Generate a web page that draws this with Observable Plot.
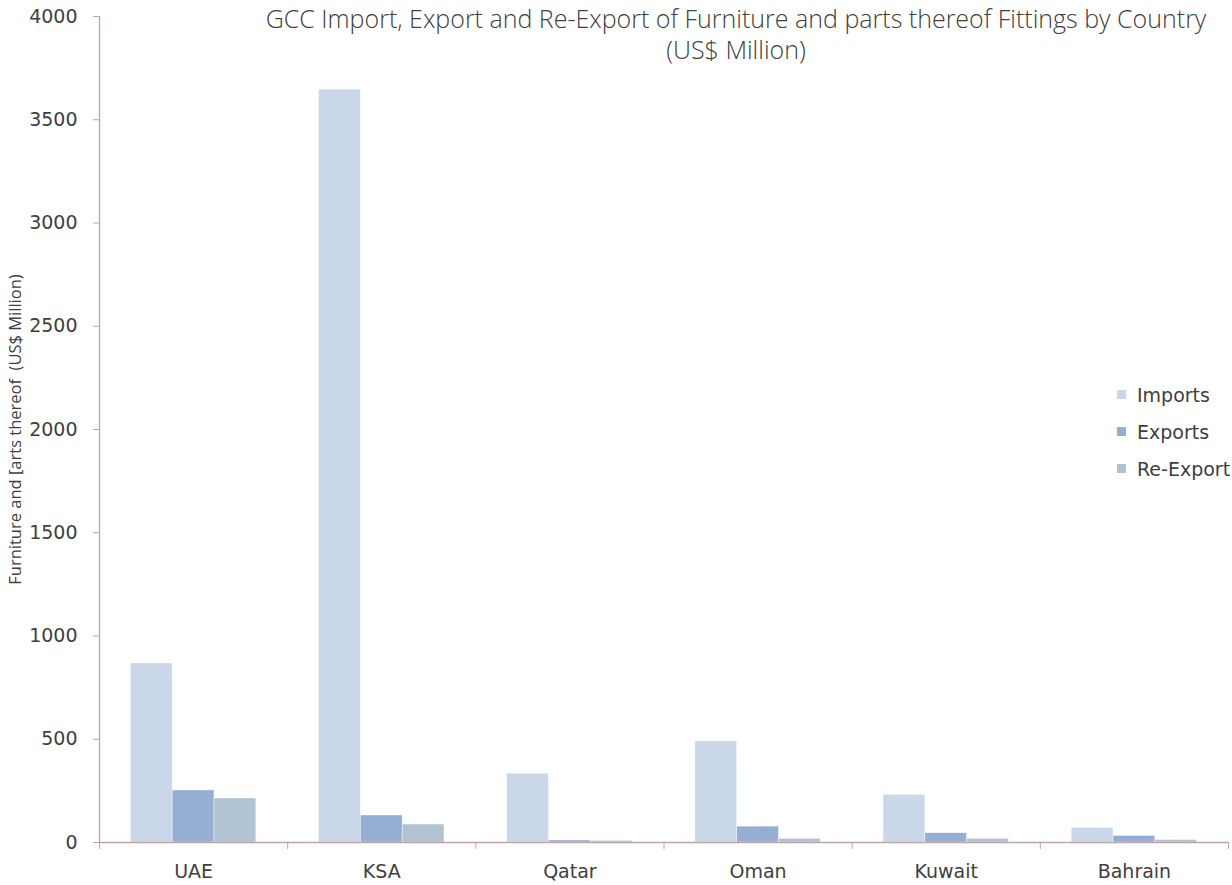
<!DOCTYPE html>
<html>
<head>
<meta charset="utf-8">
<script src="https://cdn.jsdelivr.net/npm/d3@7"></script>
<script src="https://cdn.jsdelivr.net/npm/@observablehq/plot@0.6"></script>
<style>
  body { margin: 0; background: #fff; }
  #wrap { position: relative; width: 1232px; height: 885px; font-family: "DejaVu Sans", sans-serif; color: #404040; }
  #title { position: absolute; left: 236px; width: 1000px; top: 3px; text-align: center; font-family: "Open Sans", Lato, sans-serif; font-weight: 300; font-size: 25px; line-height: 31px; color: #404040; }
  #legend { position: absolute; left: 1117px; top: 376px; font-size: 19px; color: #404040; }
  #legend .row { display: flex; align-items: center; height: 37px; }
  #legend .sw { width: 9px; height: 9px; margin-right: 11px; }
  svg { position: absolute; left: 0; top: 0; }
</style>
</head>
<body>
<div id="wrap">
  <div id="chart"></div>
  <div id="title">GCC Import, Export and Re-Export of Furniture and parts thereof Fittings by Country<br>(US$ Million)</div>
  <div id="legend"></div>
</div>
<script>
const countries = ["UAE", "KSA", "Qatar", "Oman", "Kuwait", "Bahrain"];
const seriesNames = ["Imports", "Exports", "Re-Export"];
const imports = [867, 3646, 333, 490, 231, 71];
const exportsV = [252, 131, 10, 77, 45, 32];
const reExport = [213, 87, 8, 18, 18, 12];
const yTicks = [0, 500, 1000, 1500, 2000, 2500, 3000, 3500, 4000];
const colors = ["#c9d7e8", "#95aed3", "#b0c3d2"];
const yLabel = "Furniture and [arts thereof  (US$ Million)";
const axisColor = "#bfa5a5";

const valuesBySeries = [imports, exportsV, reExport];
// Excel-style clustered columns: gap width 150% of a bar
const gap = 1.5;
const barW = 1 / (seriesNames.length + gap);
const rows = [];
countries.forEach((c, i) => {
  seriesNames.forEach((s, k) => {
    const x1 = i + (gap / 2) * barW + k * barW;
    rows.push({country: c, series: s, value: valuesBySeries[k][i], x1, x2: x1 + barW});
  });
});

const chart = Plot.plot({
  width: 1232,
  height: 885,
  marginLeft: 99,
  marginRight: 4,
  marginTop: 16,
  marginBottom: 43,
  style: {fontFamily: "'DejaVu Sans', sans-serif", fontSize: "19px", color: "#404040", background: "transparent"},
  x: {domain: [0, countries.length], axis: null},
  y: {domain: [0, 4000], axis: null},
  color: {domain: seriesNames, range: colors},
  marks: [
    Plot.rectY(rows, {x1: "x1", x2: "x2", y: "value", fill: "series", stroke: "#ffffff", strokeWidth: 0.6, strokeOpacity: 0.7}),
    Plot.ruleY([0], {stroke: axisColor, strokeWidth: 1.3}),
    Plot.ruleX([0], {y1: 0, y2: 4000, stroke: axisColor, strokeWidth: 1.3}),
    Plot.axisY({ticks: yTicks, tickSize: 6, tickPadding: 16, stroke: axisColor, label: null, fill: "#404040", tickFormat: d => String(d)}),
    Plot.axisX({ticks: d3.range(countries.length + 1), tickSize: 7, tickFormat: () => "", stroke: axisColor, label: null}),
    Plot.axisX({ticks: countries.map((c, i) => i + 0.5), tickSize: 0, tickPadding: 22, tickFormat: v => countries[Math.floor(v)], label: null, fill: "#404040"}),
    Plot.text([yLabel], {frameAnchor: "left", textAnchor: "middle", rotate: -90, dx: -84, fontSize: 16.5, fontFamily: "'Open Sans', 'Noto Sans', sans-serif", fill: "#404040"})
  ]
});
document.getElementById("chart").appendChild(chart);

const legend = document.getElementById("legend");
seriesNames.forEach((s, k) => {
  const row = document.createElement("div");
  row.className = "row";
  row.innerHTML = `<span class="sw" style="background:${colors[k]}"></span><span>${s}</span>`;
  legend.appendChild(row);
});
</script>
</body>
</html>
